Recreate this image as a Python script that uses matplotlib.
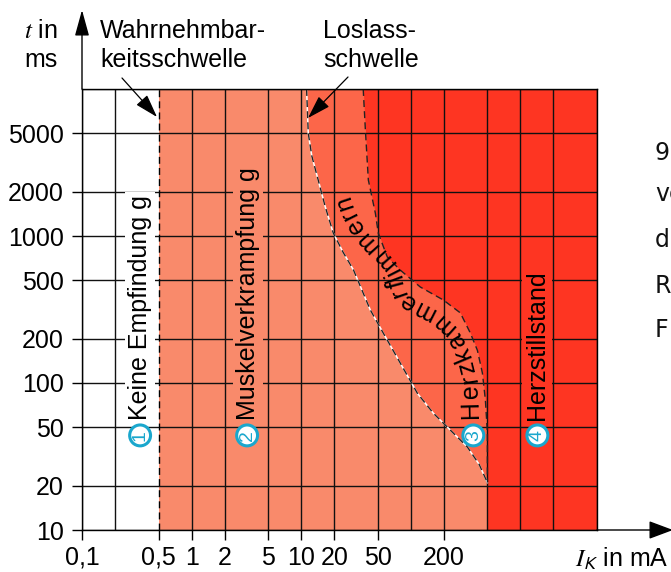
import numpy as np
import matplotlib
matplotlib.use("Agg")
import matplotlib.pyplot as plt
from matplotlib.font_manager import FontProperties

plt.rcParams['font.family'] = ['Liberation Sans', 'DejaVu Sans']
plt.rcParams['mathtext.fontset'] = 'stix'

# ---------------- data ----------------
x_grid = [0.1, 0.2, 1, 2, 5, 10, 20, 50, 100, 200, 500, 1000, 2000, 5000]
y_grid = [10, 20, 50, 100, 200, 500, 1000, 2000, 5000, 10000]
x_ticks = [0.1, 0.5, 1, 2, 5, 10, 20, 50, 200]
x_ticklabels = ['0,1', '0,5', '1', '2', '5', '10', '20', '50', '200']
y_ticks = [10, 20, 50, 100, 200, 500, 1000, 2000, 5000]
y_ticklabels = ['10', '20', '50', '100', '200', '500', '1000', '2000', '5000']

perception_I = 0.5  # Wahrnehmbarkeitsschwelle (mA)

# Loslassschwelle (left border of zone 3)
letgo_I = [11.2, 11.6, 12.5, 14.3, 16.5, 19.6, 24, 30, 42.7, 56, 80, 115, 160, 244, 328, 420, 500]
letgo_t = [10000, 5000, 3500, 2400, 1600, 1050, 780, 587, 314, 219, 137, 85, 62.5, 45.7, 36.7, 28, 21]

# border between zone 3 (Herzkammerflimmern) and zone 4 (Herzstillstand)
fibr_I = [36.8, 38.5, 41, 47.5, 50.5, 61, 80, 122, 198, 283, 349, 405, 450, 479, 500, 500]
fibr_t = [10000, 5300, 2400, 1430, 1047, 720, 587, 450, 367, 300, 219, 167, 117, 77, 46, 21]

# path for the curved band label
band_I = [357, 349, 315, 271, 215, 157, 103, 80, 75, 71, 66, 58.5, 47.4, 36.8, 31.1, 26.3, 23.7]
band_t = [56, 105, 143, 187, 240, 290, 340, 385, 479, 543, 606, 687, 803, 985, 1188, 1503, 1901]

zone_labels = ['Keine Empfindung g', 'Muskelverkrampfung g', 'Herzstillstand']
zone_label_I = [0.339, 3.28, 1429]
zone_numbers = ['1', '2', '3', '4']
zone_number_I = [0.339, 3.21, 372, 1429]

c_zone2 = '#F98A6B'
c_zone3 = '#FC6649'
c_zone4 = '#FE3522'
c_cyan = '#1AA7CD'

W, H = 671, 572
fig = plt.figure(figsize=(W / 100, H / 100), dpi=100)
L, R, T, B = 82, 597, 89, 530
ax = fig.add_axes([L / W, 1 - B / H, (R - L) / W, (B - T) / H])
ax.set_xscale('log')
ax.set_yscale('log')
ax.set_xlim(0.1, 5000)
ax.set_ylim(10, 10000)

# zones
ax.fill_betweenx([10, 10000], perception_I, 5000, color=c_zone2, lw=0, zorder=0.5)
ax.fill_betweenx(letgo_t, letgo_I, 5000, color=c_zone3, lw=0, zorder=0.6)
ax.fill_betweenx(fibr_t, fibr_I, 5000, color=c_zone4, lw=0, zorder=0.7)
ax.fill_betweenx([10, fibr_t[-1]], fibr_I[-1], 5000, color=c_zone4, lw=0, zorder=0.7)

# grid
ax.vlines(x_grid, 10, 10000, colors='#111111', lw=1.0, zorder=1)
ax.hlines(y_grid, 0.1, 5000, colors='#111111', lw=1.0, zorder=1)

# boundaries
ax.vlines([perception_I], 10, 10000, colors='k', lw=1.0, linestyles=(0, (5, 3)), zorder=2)
ax.plot(letgo_I, letgo_t, color='white', lw=1.1, zorder=2)
ax.plot(letgo_I, letgo_t, color='#222222', lw=1.0, dashes=(5, 3), zorder=2.1)
ax.plot(fibr_I, fibr_t, color='#222222', lw=1.0, dashes=(5, 3), zorder=2.1)

# ticks
ax.set_xticks(x_ticks)
ax.set_xticklabels(x_ticklabels)
ax.set_yticks(y_ticks)
ax.set_yticklabels(y_ticklabels)
ax.minorticks_off()
ax.tick_params(axis='both', direction='out', length=7.2, width=1.0, labelsize=18, color='k')
ax.tick_params(axis='y', pad=6)
ax.tick_params(axis='x', pad=4)
for s in ax.spines.values():
    s.set_color('k')
    s.set_linewidth(1.0)
    s.set_zorder(3)

# axis arrows
def fp(x, y):
    return (x, H - y)

ax.annotate('', xy=fp(82, 10), xytext=fp(82, 89), xycoords='figure pixels',
            textcoords='figure pixels',
            arrowprops=dict(arrowstyle='-|>,head_length=0.8,head_width=0.22', color='k',
                            lw=1.0, mutation_scale=20, shrinkA=0, shrinkB=0))
ax.annotate('', xy=fp(673, 530), xytext=fp(597, 530), xycoords='figure pixels',
            textcoords='figure pixels',
            arrowprops=dict(arrowstyle='-|>,head_length=0.75,head_width=0.28', color='k',
                            lw=1.0, mutation_scale=20, shrinkA=0, shrinkB=0))

# axis titles
fig.text(24 / W, 1 - 38 / H, '$t$ in', fontsize=18, va='baseline', ha='left')
fig.text(24 / W, 1 - 67 / H, 'ms', fontsize=18, va='baseline', ha='left')
fig.text(575 / W, 1 - 567 / H, r'$I_\mathsf{K}$ in mA', fontsize=18, va='baseline', ha='left')

# threshold labels with arrows
fig.text(100 / W, 1 - 38 / H, 'Wahrnehmbar-', fontsize=18, va='baseline', ha='left')
fig.text(100 / W, 1 - 67 / H, 'keitsschwelle', fontsize=18, va='baseline', ha='left')
fig.text(323 / W, 1 - 38 / H, 'Loslass-', fontsize=18, va='baseline', ha='left')
fig.text(323 / W, 1 - 67 / H, 'schwelle', fontsize=18, va='baseline', ha='left')
ax.annotate('', xy=fp(157, 117), xytext=fp(122, 78), xycoords='figure pixels',
            textcoords='figure pixels',
            arrowprops=dict(arrowstyle='-|>,head_length=0.8,head_width=0.25', color='k',
                            lw=0.9, mutation_scale=18, shrinkA=0, shrinkB=0), zorder=5)
ax.annotate('', xy=fp(308, 118), xytext=fp(348, 77), xycoords='figure pixels',
            textcoords='figure pixels',
            arrowprops=dict(arrowstyle='-|>,head_length=0.8,head_width=0.25', color='k',
                            lw=0.9, mutation_scale=18, shrinkA=0, shrinkB=0), zorder=5)

# right-hand cut-off text fragments (cut by the picture edge as in the source)
for s_, y_ in zip(['9', 've', 'd', 'R', 'F'], [160, 201, 247, 293, 337]):
    fig.text(655 / W, 1 - y_ / H, s_, fontsize=17, va='baseline', ha='left',
             family='DejaVu Sans', color='#111111')

# vertical zone labels
label_bg = ['white', c_zone2, c_zone4]
label_y = 56
for lab, xi, bg in zip(zone_labels, zone_label_I, label_bg):
    ax.text(xi, label_y, lab, rotation=90, ha='center', va='bottom', fontsize=18,
            bbox=dict(boxstyle='square,pad=0.12', fc=bg, ec='none'), zorder=4)

for num, xi in zip(zone_numbers, zone_number_I):
    ax.text(xi, 44, num, rotation=90, ha='center', va='center', fontsize=14,
            color=c_cyan,
            bbox=dict(boxstyle='circle,pad=0.1', fc='white', ec=c_cyan, lw=2.2), zorder=5)

# curved band label
fig.canvas.draw()
renderer = fig.canvas.get_renderer()
fprop = FontProperties(family=['Liberation Sans'], size=18)
text = 'Herzkammerflimmern'
pts = ax.transData.transform(np.column_stack([band_I, band_t]))
seg = np.hypot(np.diff(pts[:, 0]), np.diff(pts[:, 1]))
cum = np.concatenate([[0], np.cumsum(seg)])
Ltot = cum[-1]
widths = [renderer.get_text_width_height_descent(text[:i + 1], fprop, ismath=False)[0]
          for i in range(len(text))]
scale = Ltot / widths[-1]

def point_at(d):
    d = min(max(d, 0), Ltot - 1e-6)
    k = min(np.searchsorted(cum, d, side='right') - 1, len(seg) - 1)
    f = (d - cum[k]) / seg[k]
    return pts[k] + f * (pts[k + 1] - pts[k])

inv = ax.transData.inverted()
for i, ch in enumerate(text):
    w0 = widths[i - 1] if i > 0 else 0.0
    c = 0.5 * (w0 + widths[i]) * scale
    p = point_at(c)
    p1 = point_at(c - 7)
    p2 = point_at(c + 7)
    ang = np.degrees(np.arctan2(p2[1] - p1[1], p2[0] - p1[0]))
    dpos = inv.transform(p)
    ax.text(dpos[0], dpos[1], ch, rotation=ang, rotation_mode='anchor', ha='center',
            va='center', fontsize=18, zorder=4)

fig.savefig('out.png', dpi=100)
